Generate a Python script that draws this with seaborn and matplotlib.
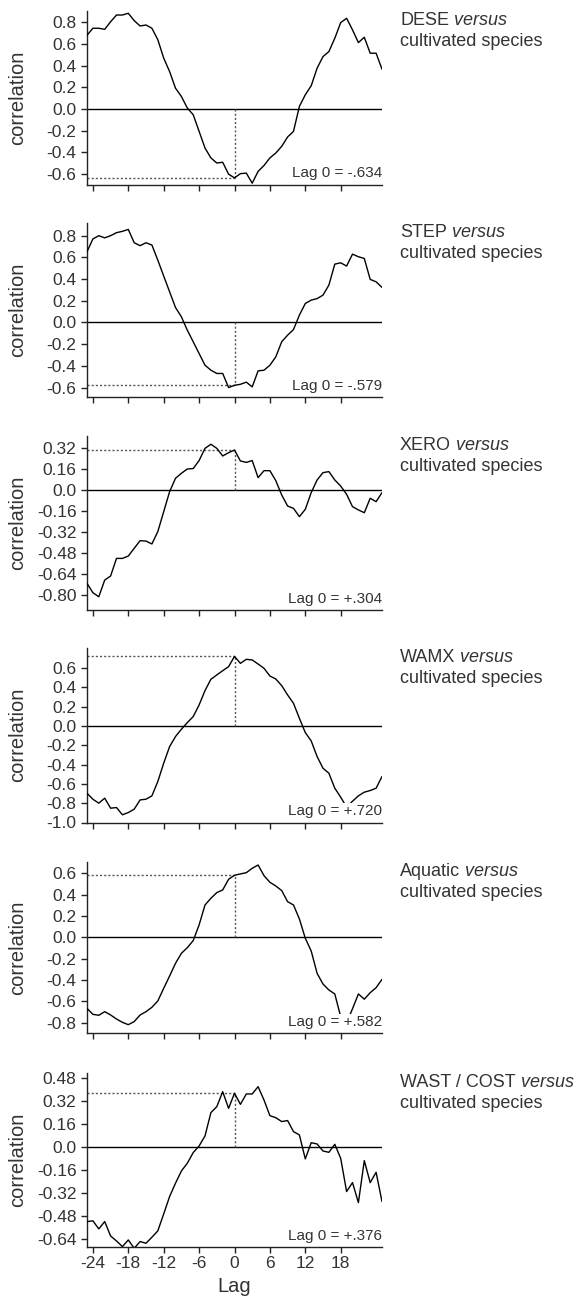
import matplotlib
matplotlib.use("Agg")
import matplotlib.pyplot as plt
import numpy as np
import pandas as pd
import seaborn as sns

# ---------------- data ----------------
lags = list(range(-25, 26))

dese = [0.68, 0.745, 0.745, 0.735, 0.805, 0.867, 0.867, 0.883, 0.815, 0.766,
        0.775, 0.745, 0.64, 0.47, 0.346, 0.193, 0.116, 0.01, -0.052, -0.205,
        -0.359, -0.45, -0.497, -0.49, -0.60,
        -0.634,
        -0.595, -0.59, -0.683, -0.574, -0.52, -0.45, -0.405, -0.343, -0.257, -0.205,
        0.025, 0.132, 0.215, 0.377, 0.484, 0.53, 0.653, 0.797, 0.837, 0.73,
        0.613, 0.662, 0.515, 0.515, 0.368]

step = [0.652, 0.77, 0.80, 0.78, 0.80, 0.828, 0.84, 0.858, 0.735, 0.708,
        0.735, 0.714, 0.575, 0.428, 0.283, 0.138, 0.052, -0.071, -0.178, -0.286,
        -0.394, -0.44, -0.47, -0.47, -0.60,
        -0.579,
        -0.57, -0.55, -0.594, -0.446, -0.44, -0.394, -0.317, -0.178, -0.117, -0.065,
        0.068, 0.175, 0.206, 0.22, 0.252, 0.345, 0.538, 0.55, 0.52, 0.63,
        0.606, 0.59, 0.397, 0.375, 0.323]

xero = [-0.711, -0.782, -0.813, -0.686, -0.655, -0.521, -0.521, -0.503, -0.444, -0.386,
        -0.389, -0.411, -0.317, -0.165, -0.013, 0.089, 0.127, 0.16, 0.163, 0.224,
        0.317, 0.348, 0.317, 0.259, 0.284,
        0.304,
        0.221, 0.21, 0.224, 0.094, 0.147, 0.147, 0.071, -0.038, -0.122, -0.14,
        -0.203, -0.147, -0.02, 0.076, 0.132, 0.14, 0.076, 0.03, -0.033, -0.127,
        -0.152, -0.173, -0.063, -0.089, -0.02]

wamx = [-0.697, -0.759, -0.80, -0.748, -0.852, -0.845, -0.92, -0.897, -0.862, -0.766,
        -0.759, -0.724, -0.576, -0.386, -0.214, -0.11, -0.034, 0.034, 0.097, 0.217,
        0.366, 0.483, 0.528, 0.572, 0.614,
        0.720,
        0.648, 0.69, 0.683, 0.641, 0.597, 0.517, 0.486, 0.417, 0.321, 0.234,
        0.079, -0.069, -0.155, -0.317, -0.438, -0.49, -0.645, -0.738, -0.84, -0.78,
        -0.724, -0.686, -0.669, -0.645, -0.524]

aquatic = [-0.666, -0.722, -0.731, -0.697, -0.728, -0.766, -0.797, -0.819, -0.79, -0.728,
           -0.697, -0.656, -0.597, -0.478, -0.363, -0.244, -0.15, -0.097, -0.031, 0.116,
           0.303, 0.366, 0.419, 0.444, 0.544,
           0.582,
           0.594, 0.606, 0.647, 0.678, 0.578, 0.516, 0.481, 0.438, 0.334, 0.303,
           0.172, -0.009, -0.128, -0.338, -0.438, -0.494, -0.531, -0.745, -0.80, -0.67,
           -0.531, -0.58, -0.519, -0.472, -0.394]

wast = [-0.517, -0.512, -0.568, -0.517, -0.617, -0.652, -0.691, -0.645, -0.703, -0.656,
        -0.668, -0.626, -0.582, -0.464, -0.343, -0.25, -0.165, -0.111, -0.037, 0.009,
        0.079, 0.241, 0.283, 0.387, 0.271,
        0.376,
        0.299, 0.371, 0.371, 0.422, 0.329, 0.22, 0.206, 0.179, 0.186, 0.109,
        0.086, -0.081, 0.032, 0.023, -0.026, -0.035, 0.021, -0.077, -0.308, -0.246,
        -0.385, -0.093, -0.246, -0.174, -0.378]

names = ["DESE", "STEP", "XERO", "WAMX", "Aquatic", "WAST / COST"]
series = [dese, step, xero, wamx, aquatic, wast]

xticks = [-24, -18, -12, -6, 0, 6, 12, 18]
xtick_labels = ["-24", "-18", "-12", "-6", "0", "6", "12", "18"]

yt_a = [-0.6, -0.4, -0.2, 0.0, 0.2, 0.4, 0.6, 0.8]
yl_a = ["-0.6", "-0.4", "-0.2", "0.0", "0.2", "0.4", "0.6", "0.8"]
yt_b = [-0.80, -0.64, -0.48, -0.32, -0.16, 0.0, 0.16, 0.32]
yl_b = ["-0.80", "-0.64", "-0.48", "-0.32", "-0.16", "0.0", "0.16", "0.32"]
yt_c = [-1.0, -0.8, -0.6, -0.4, -0.2, 0.0, 0.2, 0.4, 0.6]
yl_c = ["-1.0", "-0.8", "-0.6", "-0.4", "-0.2", "0.0", "0.2", "0.4", "0.6"]
yt_d = [-0.8, -0.6, -0.4, -0.2, 0.0, 0.2, 0.4, 0.6]
yl_d = ["-0.8", "-0.6", "-0.4", "-0.2", "0.0", "0.2", "0.4", "0.6"]
yt_e = [-0.64, -0.48, -0.32, -0.16, 0.0, 0.16, 0.32, 0.48]
yl_e = ["-0.64", "-0.48", "-0.32", "-0.16", "0.0", "0.16", "0.32", "0.48"]

yticks = [yt_a, yt_a, yt_b, yt_c, yt_d, yt_e]
ylabels = [yl_a, yl_a, yl_b, yl_c, yl_d, yl_e]
ylims = [(-0.695, 0.904), (-0.687, 0.917), (-0.910, 0.411),
         (-0.998, 0.807), (-0.897, 0.706), (-0.694, 0.517)]

# ---------------- style ----------------
sns.set_theme(style="ticks")
plt.rcParams['font.family'] = ['Liberation Sans', 'DejaVu Sans']
plt.rcParams['axes.unicode_minus'] = False

W, H = 577, 1306
fig = plt.figure(figsize=(W / 100, H / 100), dpi=100)
fig.patch.set_facecolor("white")

tops = [11, 223, 436, 648, 862, 1073]
bots = [184.5, 397, 609.5, 822.5, 1033, 1247]
L, R = 87, 382
TXT = "#333333"
AX = "#222222"

def fmt_lag0(v):
    s = "+" if v >= 0 else "-"
    return "Lag 0 = " + s + f"{abs(v):.3f}"[1:]

for i, (name, vals) in enumerate(zip(names, series)):
    t, b = tops[i], bots[i]
    ax = fig.add_axes([L / W, 1 - b / H, (R - L) / W, (b - t) / H])
    df = pd.DataFrame({"lag": lags, "r": vals})
    sns.lineplot(data=df, x="lag", y="r", ax=ax, color="black", lw=1.0, zorder=3)
    ax.axhline(0, color="black", lw=1.0, zorder=2)

    v0 = vals[lags.index(0)]
    ax.plot([lags[0], 0], [v0, v0], ls=(0, (1.5, 1.5)), color="#555555", lw=1.0, zorder=2)
    ax.plot([0, 0], [0, v0], ls=(0, (1.5, 1.5)), color="#555555", lw=1.0, zorder=2)

    ax.set_xlim(lags[0], lags[-1])
    ax.set_ylim(*ylims[i])
    ax.set_xticks(xticks)
    ax.set_yticks(yticks[i])
    ax.set_yticklabels(ylabels[i])

    for sp in ["top", "right"]:
        ax.spines[sp].set_visible(False)
    for sp in ["left", "bottom"]:
        ax.spines[sp].set_linewidth(1.0)
        ax.spines[sp].set_color(AX)

    ax.tick_params(axis="both", direction="out", length=4, width=1.0, color=AX,
                   labelsize=12.5, labelcolor=TXT)
    ax.tick_params(axis="y", pad=3.5)
    ax.tick_params(axis="x", pad=2.5)

    ax.set_ylabel("correlation", fontsize=14.5, color=TXT)
    ax.yaxis.set_label_coords((27 - L) / (R - L), 0.5)

    if i < len(names) - 1:
        ax.tick_params(axis="x", labelbottom=False)
        ax.set_xlabel("")
    else:
        ax.set_xticklabels(xtick_labels)
        ax.set_xlabel("Lag", fontsize=14.5, color=TXT, labelpad=4.5)

    ax.text(1.0, 7 / (b - t), fmt_lag0(v0), transform=ax.transAxes,
            ha="right", va="baseline", fontsize=11, color=TXT, zorder=6,
            bbox=dict(facecolor="white", edgecolor="none", pad=1.0))

    t1 = fig.text(400 / W, 1 - (t + 14) / H, name, ha="left", va="baseline",
                  fontsize=13, color=TXT)
    fig.texts[-1].axes = None
    ax.annotate(" versus", xy=(1, 0), xycoords=t1, ha="left", va="bottom",
                fontsize=13, color=TXT, style="italic", annotation_clip=False)
    fig.text(400 / W, 1 - (t + 35) / H, "cultivated species", ha="left",
             va="baseline", fontsize=13, color=TXT)

fig.savefig("out.png", dpi=100, facecolor="white")
